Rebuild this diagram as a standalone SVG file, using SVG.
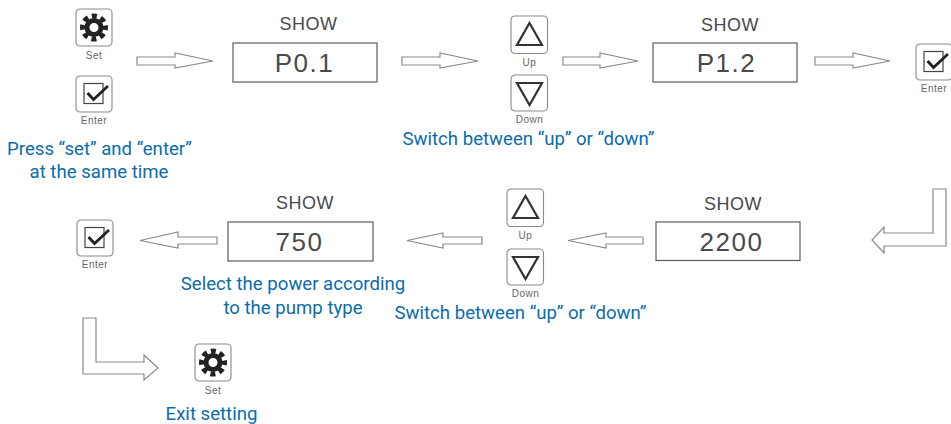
<svg xmlns="http://www.w3.org/2000/svg" width="951" height="424" viewBox="0 0 951 424">
<style>
.bg{fill:#fff}
.key{fill:#fff;stroke:#8a8a8a;stroke-width:1.1}
.glyph{fill:none;stroke:#333;stroke-width:2.2}
.klabel{font-family:"Liberation Sans",Arial,sans-serif;font-size:10px;letter-spacing:.5px;fill:#666;text-anchor:middle}
.show{font-family:"Liberation Sans",Arial,sans-serif;font-size:18px;letter-spacing:.5px;fill:#4a4a4a;text-anchor:middle}
.lcd{fill:#fff;stroke:#5c5c5c;stroke-width:1.2}
.val{font-family:"Liberation Sans",Arial,sans-serif;font-size:26px;letter-spacing:1.5px;fill:#4a4a4a;text-anchor:middle}
.note{font-family:Roboto,"Liberation Sans",sans-serif;font-size:18.600px;fill:#0b6cab;text-anchor:middle}
.arrow{fill:#fff;stroke:#8a8a8a;stroke-width:1.2;stroke-linejoin:miter}
</style>
<defs>
<g id="set-key">
<rect class="key" x="0" y="0" width="36" height="37" rx="4"/>
<circle cx="18" cy="18.500" r="7" fill="#fff" stroke="#222" stroke-width="5"/>
<circle cx="18" cy="18.500" r="11.500" fill="none" stroke="#222" stroke-width="5" stroke-dasharray="5 4.03" stroke-dashoffset="2.5"/>
<text class="klabel" x="18" y="50">Set</text>
</g>
<g id="enter-key">
<rect class="key" x="0" y="0" width="36" height="36" rx="4"/>
<rect x="8" y="7.500" width="19" height="20" fill="none" stroke="#444" stroke-width="1.2"/>
<path d="M11.500 17 L17.500 23.500 L32 10" fill="none" stroke="#222" stroke-width="2.800"/>
<text class="klabel" x="18" y="48">Enter</text>
</g>
<g id="up-key">
<rect class="key" x="0" y="0" width="36.500" height="37.500" rx="4"/>
<path class="glyph" d="M18.500 7 L31 29 L6 29 Z"/>
<text class="klabel" x="18.500" y="50">Up</text>
</g>
<g id="down-key">
<rect class="key" x="0" y="0" width="36.500" height="36" rx="4"/>
<path class="glyph" d="M6 8 L31 8 L18.500 30 Z"/>
<text class="klabel" x="18.500" y="47.500">Down</text>
</g>
</defs>
<rect class="bg" width="951" height="424"/>
<g id="connectors">
<path class="arrow" d="M137 57 H175 V53 L213 61 L175 68 V65 H137 Z"/>
<path class="arrow" d="M402 57 H440 V53 L478 61 L440 68 V65 H402 Z"/>
<path class="arrow" d="M563 57 H600 V53 L638 61 L600 68 V65 H563 Z"/>
<path class="arrow" d="M815 57 H853 V53 L890 61 L853 68 V65 H815 Z"/>
<path class="arrow" d="M933 189 H946 V246 H884 V253 L872 240 L884 227 V233 H933 Z"/>
<path class="arrow" d="M643 237 H606 V233 L568 240.500 L606 248 V244 H643 Z"/>
<path class="arrow" d="M482 237 H443 V233 L407 240.500 L443 248 V244 H482 Z"/>
<path class="arrow" d="M217 237 H178 V232 L140 240.500 L178 248 V244 H217 Z"/>
<path class="arrow" d="M83 318 H96 V362 H144 V355 L158 368 L144 380 V374 H83 Z"/>
</g>
<g id="node-start-set"><use href="#set-key" x="76" y="9"/></g>
<g id="node-start-enter"><use href="#enter-key" x="76" y="76"/></g>
<g id="note-start"><text class="note" x="99.500" y="155">Press “set” and “enter”</text><text class="note" x="99" y="178">at the same time</text></g>
<g id="node-p01"><text class="show" x="308.500" y="30">SHOW</text><rect class="lcd" x="233" y="43" width="144" height="39"/><text class="val" x="304.500" y="72">P0.1</text></g>
<g id="node-up1"><use href="#up-key" x="511" y="16"/></g>
<g id="node-down1"><use href="#down-key" x="511" y="75"/></g>
<g id="note-switch1"><text class="note" x="528.500" y="145">Switch between “up” or “down”</text></g>
<g id="node-p12"><text class="show" x="730" y="31">SHOW</text><rect class="lcd" x="653" y="43" width="144" height="39"/><text class="val" x="726.500" y="72">P1.2</text></g>
<g id="node-enter-right"><use href="#enter-key" x="916" y="44"/></g>
<g id="node-2200"><text class="show" x="733" y="210">SHOW</text><rect class="lcd" x="656" y="222" width="144" height="38.500"/><text class="val" x="731.500" y="251">2200</text></g>
<g id="node-up2"><use href="#up-key" x="507" y="189"/></g>
<g id="node-down2"><use href="#down-key" x="507" y="249"/></g>
<g id="note-switch2"><text class="note" x="520.500" y="319">Switch between “up” or “down”</text></g>
<g id="node-750"><text class="show" x="305" y="209">SHOW</text><rect class="lcd" x="228" y="222" width="145" height="39"/><text class="val" x="299.500" y="251">750</text></g>
<g id="note-power"><text class="note" x="293" y="290">Select the power according</text><text class="note" x="293" y="314">to the pump type</text></g>
<g id="node-enter-left"><use href="#enter-key" x="77" y="220"/></g>
<g id="node-exit-set"><use href="#set-key" x="195" y="344"/></g>
<g id="note-exit"><text class="note" x="211.500" y="420">Exit setting</text></g>
</svg>
